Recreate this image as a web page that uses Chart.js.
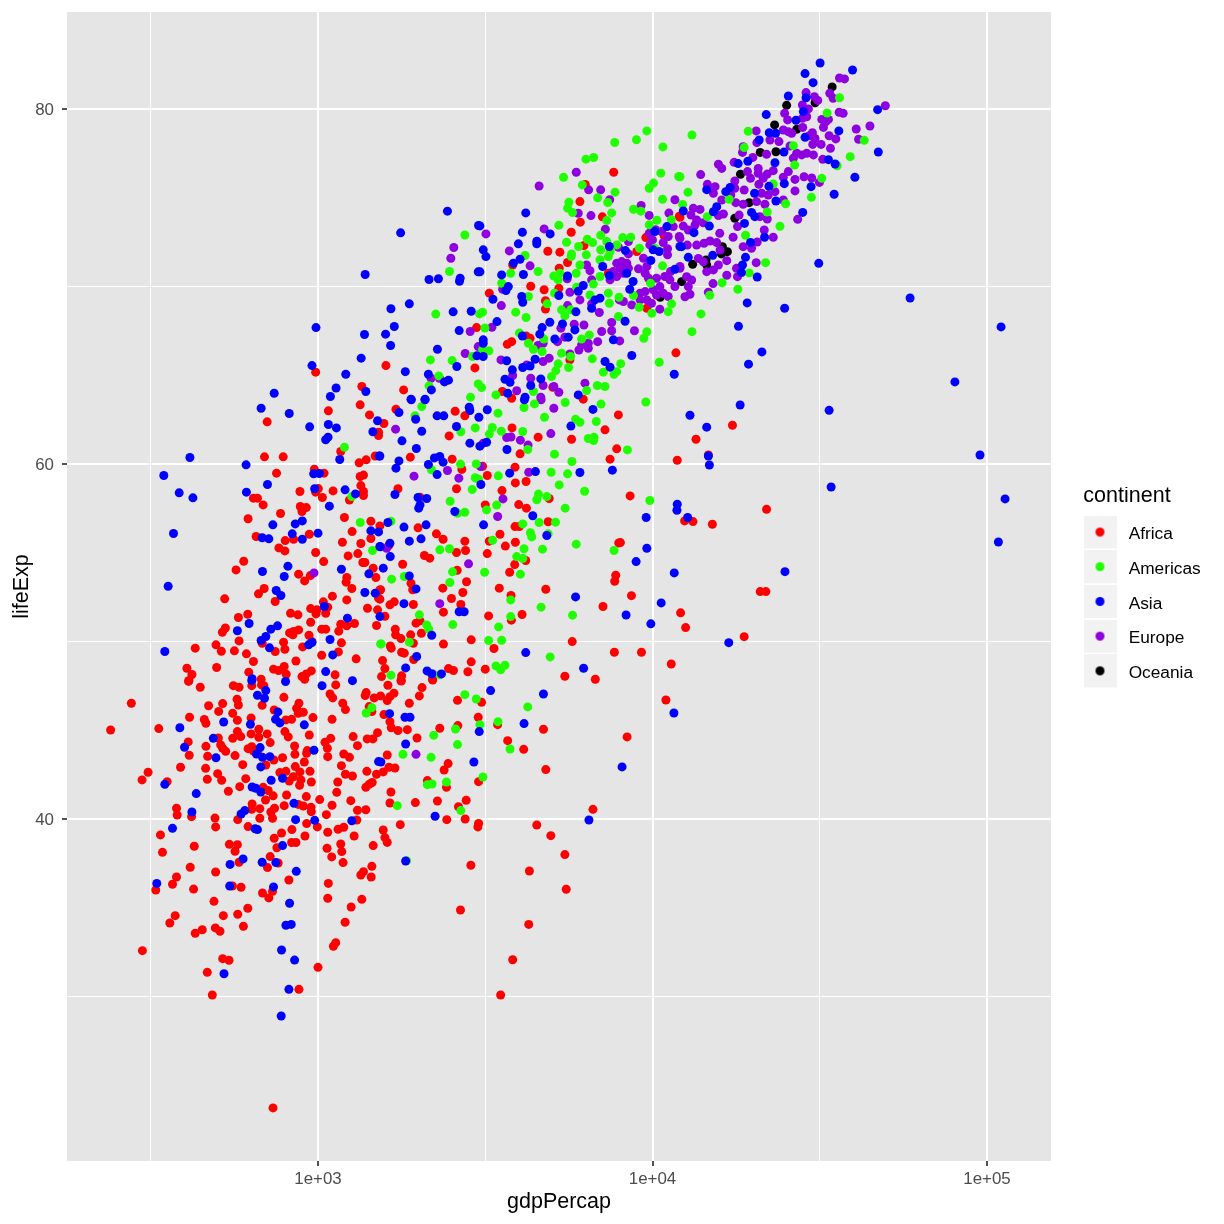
<!DOCTYPE html>
<html><head><meta charset="utf-8">
<style>html,body{margin:0;padding:0;background:#fff}canvas{display:block}</style>
<script src="https://cdn.jsdelivr.net/npm/chart.js@4"></script>
</head><body><canvas id="c" width="1224" height="1224"></canvas>
<script>
// Each pair: [log10(gdpPercap), lifeExp].
const africa=[[2.442,46.52],[2.380,45.01],[2.524,45.09],[2.616,45.73],[2.673,46.38],[2.648,47.42],[2.613,47.75],[2.715,46.50],[2.703,46.06],[2.660,45.60],[2.665,45.39],[2.745,45.95],[2.759,45.56],[2.758,46.74],[2.762,46.42],[2.747,47.51],[2.764,47.42],[2.800,45.69],[2.833,46.40],[2.802,47.51],[2.831,47.55],[2.838,47.51],[2.898,46.85],[2.869,46.14],[2.943,46.52],[2.936,46.23],[2.956,46.01],[2.941,45.95],[2.921,45.61],[2.904,45.58],[2.985,45.71],[2.612,44.34],[2.665,44.09],[2.702,44.56],[2.709,44.17],[2.715,43.98],[2.724,43.81],[2.615,43.59],[2.670,43.53],[2.752,43.57],[2.759,44.92],[2.745,44.54],[2.769,44.64],[2.800,44.79],[2.823,45.05],[2.823,44.6],[2.848,44.79],[2.857,44.3],[2.901,44.92],[2.911,44.62],[2.974,44.73],[2.791,43.96],[2.802,44.07],[2.807,43.83],[2.819,43.74],[2.930,44.11],[2.931,43.64],[2.968,43.85],[2.966,43.70],[2.894,43.45],[2.868,43.32],[2.775,43.06],[2.844,43.04],[2.959,43.21],[2.932,42.95],[2.886,42.61],[2.904,42.68],[2.946,42.65],[2.976,42.68],[2.926,42.38],[2.914,42.14],[2.949,42.2],[2.980,42.08],[2.945,41.9],[2.589,42.91],[2.664,42.85],[2.700,42.55],[2.669,42.23],[2.712,42.18],[2.784,42.27],[2.766,41.82],[2.732,41.56],[2.492,42.63],[2.474,42.2],[2.549,42.1],[2.836,41.78],[2.851,41.6],[2.843,41.07],[2.866,41.3],[2.906,41.35],[2.965,41.26],[3.005,41.09],[2.899,40.75],[2.941,40.82],[2.956,40.73],[2.979,40.66],[2.980,40.41],[2.803,40.84],[2.802,40.54],[2.826,40.58],[2.870,40.6],[2.859,40.39],[2.864,40.04],[2.826,40.04],[2.577,40.6],[2.579,40.22],[2.622,40.13],[2.692,40.05],[2.694,39.55],[2.760,39.96],[2.791,39.57],[2.966,39.74],[2.998,39.55],[2.922,39.4],[2.961,39.04],[2.891,39.21],[2.869,38.91],[2.529,39.1],[2.535,38.12],[2.630,38.46],[2.735,38.57],[2.759,38.55],[2.752,38.18],[2.877,38.38],[2.921,38.67],[2.934,38.67],[2.857,37.88],[2.764,37.56],[2.881,37.52],[2.849,37.26],[2.618,37.28],[2.694,37.01],[2.913,36.56],[2.577,36.73],[2.565,36.32],[2.515,36.0],[2.628,36.05],[2.744,36.22],[2.770,36.15],[2.834,35.83],[2.864,35.92],[2.853,35.55],[2.689,35.36],[2.790,34.97],[2.760,34.63],[2.717,34.55],[2.573,34.55],[2.557,34.14],[2.777,33.95],[2.693,33.86],[2.707,33.67],[2.654,33.76],[2.633,33.56],[2.475,32.58],[2.715,32.13],[2.734,32.04],[2.669,31.36],[3.000,31.64],[2.943,30.4],[2.684,30.08],[2.8655,23.72],
[3.053,47.55],[3.036,47.04],[3.044,46.82],[3.144,47.12],[3.141,46.95],[3.168,46.82],[3.187,46.93],[3.209,47.53],[3.227,47.08],[3.215,46.89],[3.207,46.67],[3.311,47.4],[3.303,46.93],[3.273,46.52],[3.249,47.77],[3.343,47.83],[3.074,46.52],[3.082,46.16],[3.042,45.61],[3.153,46.33],[3.161,46.05],[3.197,45.88],[3.215,45.48],[3.219,45.14],[3.239,44.98],[3.267,45.03],[3.296,44.56],[3.364,45.11],[3.418,45.26],[3.417,46.68],[3.489,46.57],[3.479,45.73],[3.537,45.31],[3.674,45.05],[3.567,44.41],[3.615,43.92],[3.681,42.78],[3.038,44.54],[3.021,44.32],[3.028,43.98],[3.029,43.51],[3.105,44.64],[3.118,44.13],[3.147,44.51],[3.164,44.51],[3.178,44.86],[3.077,43.66],[3.094,43.47],[3.070,43.0],[3.082,42.52],[3.103,42.42],[3.059,42.08],[3.056,41.5],[3.146,42.68],[3.175,42.52],[3.195,42.65],[3.212,42.91],[3.230,42.87],[3.207,43.6],[3.143,41.78],[3.153,41.95],[3.162,42.05],[3.218,41.52],[3.098,41.03],[3.042,40.77],[3.025,40.24],[3.215,40.9],[3.291,40.92],[3.357,41.01],[3.443,41.05],[3.420,40.69],[3.385,39.96],[3.440,40.0],[3.480,39.75],[3.478,39.55],[3.822,40.54],[3.654,39.66],[3.696,39.06],[3.738,37.99],[3.632,37.07],[3.742,36.04],[3.630,34.06],[3.582,32.07],[3.546,30.08],[3.426,34.87],[3.457,37.39],[3.118,40.49],[3.143,40.52],[3.116,39.94],[3.029,39.25],[3.060,39.42],[3.077,39.53],[3.108,39.04],[3.246,39.68],[3.195,39.38],[3.200,38.95],[3.207,38.68],[3.165,38.5],[3.068,38.59],[3.027,38.35],[3.071,38.16],[3.041,37.86],[3.075,37.54],[3.161,37.33],[3.136,37.03],[3.128,36.84],[3.159,36.73],[3.031,36.37],[3.029,35.53],[3.131,35.47],[3.099,35.04],[3.081,34.18],[3.053,33.03],[3.046,32.83],[3.389,43.12],[3.377,42.76],[3.327,42.16],[3.384,41.78],[3.480,42.1],
[2.848,62.37],[3.126,63.33],[3.031,62.99],[3.154,62.76],[3.181,61.79],[3.181,61.6],[3.068,60.7],[2.840,60.4],[2.896,60.4],[3.123,60.06],[3.144,60.23],[3.171,60.45],[2.876,59.48],[2.989,59.7],[3.018,59.48],[3.126,59.29],[3.136,59.37],[3.128,58.78],[2.946,58.45],[3.001,58.61],[2.993,58.41],[3.045,58.48],[3.013,58.11],[2.807,58.07],[2.819,58.07],[2.836,57.69],[3.136,58.45],[3.136,58.22],[3.094,57.97],[2.947,57.6],[2.965,57.54],[2.952,57.32],[2.888,57.21],[2.791,56.91],[3.079,56.98],[3.158,56.77],[3.185,56.51],[3.102,56.19],[2.815,55.91],[2.974,56.04],[2.902,55.68],[2.927,55.76],[3.073,55.59],[3.128,55.52],[3.158,55.8],[2.883,55.27],[2.901,55.1],[2.993,55.01],[3.017,54.5],[3.090,54.82],[3.119,54.95],[3.134,54.45],[3.140,54.45],[2.778,54.52],[2.755,54.03],[2.942,53.79],[2.977,53.71],[2.960,53.41],[3.165,54.13],[3.173,53.6],[3.086,53.6],[3.084,53.34],[3.101,52.98],[3.185,52.9],[2.839,52.98],[2.822,52.68],[2.721,52.4],[2.872,52.25],[3.043,52.55],[3.086,52.34],[3.181,52.44],[3.016,52.23],[3.148,51.87],[3.178,51.78],[2.978,51.85],[2.997,51.78],[2.994,51.55],[3.023,51.59],[3.029,51.93],[2.918,51.59],[2.940,51.5],[2.762,51.35],[2.790,51.53],[2.723,50.76],[2.714,50.52],[2.978,51.08],[3.068,50.97],[3.086,50.88],[3.109,51.01],[3.062,50.58],[3.175,50.9],[3.011,50.69],[3.023,50.69],[2.942,50.65],[2.927,50.56],[2.915,50.48],[2.925,50.37],[2.973,50.35],[2.764,50.03],[2.897,49.96],[2.695,49.81],[2.633,49.62],[2.711,49.45],[2.750,49.47],[2.833,49.9],[2.901,49.56],[2.872,49.43],[2.954,49.69],[2.982,49.99],[3.070,49.92],[3.061,49.41],[3.011,49.22],[2.786,49.3],[2.934,48.9],[3.114,49.02],[2.807,48.87],[2.697,48.53],[2.608,48.49],[2.623,48.14],[2.614,47.8],[2.793,48.27],[2.867,48.44],[2.882,48.36],[2.899,48.59],[2.905,48.15],[2.980,48.34],[2.965,48.17],[2.952,48.02],[2.960,47.87],[3.051,48.12],[2.830,47.87],
[3.233,63.08],[3.197,62.28],[3.410,62.97],[3.439,62.71],[3.392,61.58],[3.580,62.03],[3.658,61.51],[3.758,61.39],[3.858,61.92],[3.898,62.76],[3.893,60.85],[3.873,60.27],[3.604,60.57],[3.276,60.38],[3.401,60.27],[3.430,59.69],[3.492,59.87],[3.506,59.35],[3.589,59.82],[3.590,58.93],[3.622,59.01],[3.414,58.6],[3.550,58.5],[3.239,58.6],[3.305,58.13],[3.500,57.69],[3.600,57.71],[3.623,57.51],[3.691,58.05],[3.688,56.74],[3.589,56.47],[3.602,56.47],[3.299,56.4],[3.354,56.06],[3.374,55.76],[3.544,56.04],[3.439,55.65],[3.441,55.12],[3.414,55.01],[3.512,55.65],[3.560,55.37],[3.590,55.59],[3.506,54.95],[3.318,54.84],[3.334,54.69],[3.212,55.42],[3.253,54.35],[3.588,54.33],[3.621,54.56],[3.573,53.9],[3.416,54.01],[3.444,53.36],[3.278,53.28],[3.283,52.91],[3.373,53.0],[3.433,52.76],[3.542,53.0],[3.577,52.59],[3.681,52.94],[3.899,55.55],[3.890,53.73],[3.887,53.39],[3.399,52.42],[3.427,52.08],[3.215,52.06],[3.228,52.23],[3.285,52.08],[3.187,52.91],[3.185,52.38],[3.375,51.65],[3.510,51.44],[3.578,51.2],[3.610,51.52],[3.852,51.97],[3.200,51.42],[3.305,51.16],[3.293,51.03],[3.231,50.69],[3.232,50.37],[3.248,50.16],[3.277,50.37],[3.309,50.46],[3.285,49.9],[3.216,49.75],[3.219,49.62],[3.250,49.39],[3.258,49.34],[3.286,48.98],[3.375,49.85],[3.458,50.09],[3.526,49.6],[3.760,49.99],[3.886,49.39],[3.458,48.85],[3.390,48.47],[3.405,48.36],[3.448,48.29],[3.500,48.44],[3.193,48.92],[3.200,48.47],[3.190,48.02],[3.250,48.06],[3.248,47.8],[3.342,47.87],[3.738,48.04],[3.829,47.87],
[3.884,76.43],[3.799,75.74],[3.783,74.78],[3.850,73.92],[3.784,73.62],[4.080,73.96],[3.757,73.05],[3.980,72.75],[4.035,72.85],[3.795,72.3],[3.687,71.98],[3.723,71.93],[3.746,71.35],[3.582,71.21],[3.721,71.03],[3.953,71.97],[3.636,70.01],[3.676,69.81],[3.720,69.9],[3.512,69.62],[3.680,69.19],[3.680,68.73],[3.983,68.77],[3.868,70.74],[3.622,67.21],[3.634,67.08],[3.566,66.74],[3.579,66.89],[3.753,65.86],[4.070,66.26],[3.551,64.08],[3.579,63.7],[3.702,64.32],[3.793,63.65],[2.993,65.17],[3.203,65.54],[3.474,67.68],[3.469,65.41],[3.131,64.36],[3.256,64.17],[4.082,73.9],
[4.239,62.18],[4.130,61.39],[4.167,60.5],[4.074,60.21],[3.933,58.2],[4.341,57.44],[4.096,56.79],[4.121,56.75],[4.179,56.6],[3.904,55.57],[3.937,52.58],[4.084,51.61],[4.099,50.78],[4.274,50.27],[4.322,52.81],[4.339,52.81],[3.967,49.39],[4.056,48.73],[4.040,46.7],[3.924,44.62]];
const americas=[[3.439,47.0],[3.473,46.76],[3.627,46.31],[3.161,46.27],[3.144,45.97],[3.484,45.31],[3.538,45.48],[3.411,45.07],[3.346,44.71],[3.417,44.19],[3.574,43.94],[3.254,43.64],[3.338,43.47],[3.493,42.36],[3.384,42.08],[3.327,41.93],[3.341,41.97],[3.237,40.75],[3.427,40.47],[3.265,37.65],
[3.079,60.94],[3.101,58.16],[3.126,56.7],[3.163,55.12],[3.187,49.86],
[3.310,63.23],[3.290,62.71],[3.538,62.86],[3.616,63.18],[3.647,63.38],[3.677,62.63],[3.739,63.46],[3.846,63.37],[3.770,62.52],[3.783,62.35],[3.832,62.39],[3.470,62.03],[3.427,61.81],[3.521,62.05],[3.512,61.68],[3.548,61.84],[3.612,61.83],[3.808,61.43],[3.825,61.51],[3.824,61.32],[3.627,60.81],[3.707,60.55],[3.759,60.14],[3.426,59.99],[3.473,60.0],[3.339,59.67],[3.539,59.33],[3.697,59.53],[3.746,59.44],[3.721,58.82],[3.797,58.46],[3.470,59.22],[3.480,59.14],[3.461,58.56],[3.659,58.3],[3.654,57.98],[3.684,58.16],[3.395,57.9],[3.534,57.68],[3.504,57.41],[3.739,57.51],[3.417,57.22],[3.439,57.28],[3.218,56.77],[3.612,56.62],[3.661,56.7],[3.710,56.72],[3.635,56.12],[3.639,55.89],[3.688,56.06],[3.522,55.7],[3.772,55.48],[3.885,55.12],[3.364,55.16],[3.393,55.22],[3.616,55.22],[3.671,55.2],[3.594,54.78],[3.612,54.67],[3.498,53.9],[3.402,53.92],[3.605,53.79],[3.220,53.51],[3.258,53.66],[3.394,53.32],[3.576,52.34],[3.667,51.93],[3.761,51.48],[3.576,51.4],[3.303,51.5],[3.325,50.93],[3.331,50.69],[3.403,50.95],[3.540,50.82],[3.273,49.96],[3.189,49.86],[3.510,50.05],[3.549,50.07],[3.694,49.13],[3.532,48.62],[3.559,48.66],[3.546,48.4],[3.218,48.1],[3.364,48.12],
[3.439,72.9],[3.393,70.84],[3.352,68.44],[3.483,68.45],[3.336,65.86],[3.401,65.82],[3.462,66.05],[3.361,64.96],[3.332,64.4],[3.479,64.51],[3.456,63.76],
[3.887,78.11],[3.952,78.26],[3.983,78.76],[4.031,77.86],[3.801,77.17],[3.824,77.26],[3.734,76.15],[3.790,75.72],[4.025,76.38],[4.078,76.19],[4.003,75.82],[3.990,75.53],[3.888,75.31],[3.836,74.99],[3.866,74.73],[4.030,74.91],[3.750,74.74],[3.746,74.41],[3.761,74.16],[3.878,74.14],[3.943,74.35],[3.965,74.24],[3.863,73.71],[4.013,73.73],[4.056,73.75],[3.720,73.45],[3.990,73.47],[3.845,72.89],[3.805,72.66],[3.821,72.47],[3.743,72.49],[3.911,72.75],[3.935,72.77],[3.779,72.25],[3.863,72.53],[3.893,72.34],[3.961,72.15],[4.007,72.15],[3.845,72.06],[3.873,71.97],[3.758,71.83],[3.757,71.68],[3.802,71.78],[3.843,71.5],[3.868,71.68],[3.619,71.74],[3.783,71.21],[3.658,70.84],[3.576,70.74],[4.030,71.16],[3.705,70.59],[3.723,70.74],[3.718,70.37],[3.772,70.74],[3.843,70.56],[3.549,70.18],[3.994,70.18],[3.823,70.13],[3.773,69.96],[3.707,69.62],[3.813,69.52],[3.868,69.62],[3.629,69.43],[3.943,69.49],[3.900,69.39],[3.871,69.05],[3.685,69.02],[3.960,68.83],[3.728,68.68],[3.738,68.34],[3.755,68.68],[4.057,69.02],[4.047,68.58],[3.998,68.49],[3.591,68.55],[3.622,68.25],[3.492,68.55],[3.499,67.66],[3.898,68.3],[3.602,67.38],[3.983,67.44],[3.974,67.08],[3.675,67.04],[3.811,67.27],[3.788,67.04],[3.629,66.8],[3.644,66.46],[3.670,66.33],[3.511,66.37],[3.492,66.43],[3.728,66.24],[3.755,66.05],[3.820,65.92],[4.020,65.73],[3.905,65.65],[3.718,65.64],[3.749,65.43],[3.711,65.26],[3.853,65.17],[3.893,65.2],[3.885,65.05],[3.698,64.92],[3.835,64.42],[3.858,64.36],[3.803,64.13],[3.644,64.08],[3.489,64.3],[3.532,63.89],
[4.559,80.63],[4.522,79.77],[4.286,78.74],[4.421,77.93],[4.274,77.82],[4.591,77.31],[4.633,78.23],[4.552,76.8],[4.425,76.84],[4.506,76.09],[4.475,75.02],[4.361,75.77],[4.106,75.3],[4.229,74.91],[4.090,74.62],[4.398,74.66],[4.343,74.19],[4.164,73.93],[4.381,73.39],[4.278,72.88],[4.118,78.53],[4.082,76.18],[4.338,71.34],[4.289,70.76],[4.208,70.21],[4.255,69.84],[4.171,69.5],[4.145,68.45],[4.118,67.45],
[3.980,63.49],[3.925,60.79],[3.992,57.94]];
const asia=[[2.802,47.79],[2.844,47.23],[2.819,46.97],[2.840,46.8],[2.903,47.74],[3.012,47.51],[2.880,46.03],[2.873,45.61],[2.886,45.41],[2.959,45.3],[2.718,45.46],[2.798,45.33],[2.587,45.14],[2.687,44.54],[2.601,44.04],[2.827,44.02],[2.816,43.66],[2.834,43.47],[2.856,43.51],[2.695,43.45],[2.829,42.93],[2.988,43.87],[2.894,42.29],[2.860,42.18],[2.542,41.95],[2.636,41.43],[2.803,41.8],[2.814,41.73],[2.829,41.52],[2.928,40.88],[2.623,40.39],[2.781,40.47],[2.770,40.28],[2.933,39.96],[2.990,39.92],[2.565,39.47],[2.812,39.45],[2.819,39.4],[2.894,38.5],[2.776,37.75],[2.737,37.44],[2.833,37.56],[2.874,37.54],[2.935,37.05],[2.518,36.37],[2.736,36.22],[2.867,36.17],[2.915,35.25],[2.904,34.01],[2.920,34.06],[2.891,32.62],[2.930,32.05],[2.719,31.28],[2.913,30.4],[2.890,28.9],
[3.103,47.79],[3.516,47.23],[3.674,47.04],[3.214,45.93],[3.260,45.73],[3.275,45.73],[3.616,45.37],[3.482,44.92],[3.262,44.22],[3.181,43.23],[3.188,43.21],[3.466,43.21],[3.350,40.15],[3.101,39.9],[3.262,37.63],[3.810,39.94],
[2.830,63.14],[2.914,62.84],[2.975,62.09],[3.031,62.22],[3.055,62.03],[3.178,62.43],[3.164,61.81],[3.030,61.51],[3.023,61.36],[2.617,60.36],[3.065,60.25],[3.183,60.44],[2.785,59.95],[2.539,59.35],[2.849,58.84],[2.987,59.44],[3.004,59.46],[2.585,58.37],[2.626,58.09],[2.786,58.41],[2.990,58.6],[3.081,58.54],[3.112,58.31],[3.034,57.62],[2.568,56.08],[2.865,56.57],[2.932,56.62],[2.953,56.79],[2.923,56.06],[2.833,55.84],[2.853,55.78],[2.953,55.76],[3.000,56.1],[3.158,56.23],[3.181,56.17],[3.186,55.33],[2.910,54.24],[2.834,53.94],[2.899,53.66],[3.070,54.07],[3.152,53.81],[2.552,53.11],[2.875,52.87],[2.889,52.59],[3.140,52.76],[3.171,52.72],[3.019,51.97],[3.088,51.31],[2.794,51.01],[2.759,50.6],[2.879,50.88],[2.859,50.69],[2.844,50.28],[2.830,50.05],[3.036,50.11],[2.855,49.64],[2.542,49.43],[2.982,49.94],[2.972,49.81],[3.044,49.24],[3.023,48.3],[2.803,47.9],
[3.279,63.61],[3.320,63.61],[3.242,62.9],[3.292,62.52],[3.356,62.71],[3.376,62.71],[3.452,63.2],[3.454,63.01],[3.481,62.63],[3.506,63.05],[3.414,62.11],[3.310,61.84],[3.251,61.3],[3.294,60.87],[3.454,61.17],[3.484,61.0],[3.504,61.22],[3.565,60.81],[3.756,62.13],[3.822,63.07],[3.617,63.61],[3.348,60.34],[3.364,60.42],[3.374,60.1],[3.330,59.97],[3.356,59.4],[3.242,60.17],[3.233,59.76],[3.487,58.84],[3.573,59.48],[3.650,59.57],[3.783,59.52],[3.880,59.65],[3.230,58.28],[3.299,58.11],[3.325,58.05],[3.305,57.69],[3.301,57.51],[3.409,57.32],[3.642,57.08],[3.209,56.7],[3.257,56.44],[3.323,56.57],[3.495,56.57],[3.684,55.97],[3.308,55.78],[3.273,55.65],[3.215,55.53],[3.185,55.35],[3.216,54.78],[3.195,54.13],[3.273,53.69],[3.293,52.96],[3.257,52.13],[3.770,52.51],[3.422,51.67],[3.437,51.67],[3.340,50.35],[3.295,49.15],[3.621,49.37],[3.262,48.51],[3.326,48.34],[3.340,48.17],[3.369,48.17],[3.794,48.49],[3.185,60.45],[3.185,51.4],
[3.387,74.24],[3.480,73.43],[3.247,73.02],[3.141,70.67],[3.332,70.39],[3.360,70.43],[3.425,70.46],[3.423,70.29],[3.479,70.82],[3.273,69.02],[3.218,68.74],[3.404,68.57],[3.458,68.6],[2.994,67.68],[3.228,67.74],[3.422,67.51],[3.139,67.29],[3.202,67.31],[3.217,66.67],[3.357,66.46],[3.129,65.96],[3.475,66.09],[2.982,65.54],[3.415,65.49],[3.261,65.2],[3.083,65.05],[3.330,65.05],[3.378,64.62],[3.390,64.72],[3.054,64.28],[3.143,64.08],[3.339,64.17],[2.869,63.98],[3.037,63.8],[3.278,63.65],[3.320,63.65],
[3.621,74.14],[3.484,73.41],[3.611,73.05],[3.694,72.96],[3.654,72.55],[3.654,72.4],[3.599,72.4],[3.494,72.06],[3.502,71.68],[3.604,71.53],[3.584,71.31],[3.484,70.82],[3.549,70.65],[3.614,70.67],[3.746,70.59],[3.569,69.99],[3.562,69.77],[3.523,69.28],[3.609,69.43],[3.612,69.11],[3.793,70.05],[3.778,69.73],[3.720,69.49],[3.851,71.12],[3.871,70.61],[3.871,72.25],[3.923,70.74],[3.942,70.28],[3.932,69.84],[3.919,72.02],[3.995,71.46],[4.002,72.06],[4.020,71.97],[4.007,73.09],[4.043,73.37],[4.082,72.25],[4.067,70.97],[3.843,69.34],[3.828,69.24],[3.818,68.77],[3.771,68.57],[3.535,68.02],[3.693,67.98],[3.670,67.68],[3.663,67.31],[3.731,67.89],[3.768,67.55],[3.708,67.04],[3.748,67.14],[3.918,68.04],[3.883,66.99],[3.611,67.21],[3.494,66.99],[3.494,66.8],[3.494,66.05],[3.564,65.81],[3.649,65.9],[3.938,66.11],[3.581,65.3],[3.612,65.43],[3.634,65.52],[3.858,65.77],[3.873,65.45],[3.559,64.77],[3.574,64.6],[3.666,64.79],[3.636,64.42],[3.567,63.98],[3.619,63.76],[3.778,63.89],[4.065,65.05],
[4.501,82.59],[4.598,82.19],[4.456,81.99],[4.480,81.48],[4.406,80.73],[4.459,80.63],[4.340,79.68],[4.673,79.96],[4.429,79.36],[4.451,79.85],[4.557,78.76],[4.349,78.66],[4.368,78.63],[4.319,78.25],[4.456,78.4],[4.675,77.57],[4.393,77.57],[4.285,77.05],[4.256,76.92],[4.366,76.97],[4.526,77.14],[4.546,76.9],[4.605,76.15],[4.394,75.79],[4.474,75.62],[4.348,75.64],[4.162,75.45],[4.232,75.58],[4.219,75.34],[4.305,75.25],[4.543,75.19],[4.369,74.81],[4.092,74.25],[4.192,74.49],[4.182,74.21],[4.296,74.17],[4.306,73.93],[4.449,74.17],[4.170,73.4],[4.275,73.55],[4.124,73.03],[4.087,72.24],[4.335,72.77],[4.293,72.48],[4.107,71.64],[4.180,71.75],[4.278,71.64],[4.269,71.21],[4.497,71.3],[4.266,70.78],[4.313,70.53],[4.283,69.07],[4.395,68.77],[4.257,67.75],[4.770,69.35],
[4.327,66.31],[4.287,65.62],[4.262,63.32],[4.528,63.02],[4.112,62.74],[4.162,62.07],[4.167,60.45],[4.170,59.94],[4.534,58.7],[4.074,57.73],[4.073,57.39],[3.981,56.98],[4.105,56.98],[3.983,55.25],[3.951,54.5],[4.065,53.86],[4.396,53.93],[4.026,52.17],[3.921,51.49],[3.995,50.99],[4.228,49.93],[4.064,45.97],[3.909,42.93],
[4.904,64.62],[4.979,60.5],[5.042,67.72],[5.054,58.03],[5.034,55.6]];
const europe=[[3.293,43.64],[2.988,53.86],
[3.232,61.96],[3.705,63.14],[3.667,63.61],[3.696,61.71],[3.564,61.49],[3.577,61.52],[3.605,61.34],[3.628,61.06],[3.494,61.17],[3.486,59.85],[3.387,59.63],[3.630,59.53],[3.287,59.31],[3.421,59.2],[3.553,58.03],[3.537,57.04],[3.205,55.25],[3.450,54.37],[3.364,52.13],[3.343,48.17],
[3.406,72.19],[3.397,71.59],[3.455,67.46],[3.479,66.61],[3.440,66.22],[3.338,64.83],[3.363,64.83],
[3.661,75.66],[3.772,76.43],[3.809,75.44],[3.845,75.44],[3.872,74.88],[3.778,74.12],[3.816,73.99],[3.966,74.56],[3.990,74.0],[4.067,74.88],[4.049,74.13],[3.859,73.22],[3.676,73.24],[3.502,72.96],[3.990,72.99],[4.009,73.19],[4.027,73.09],[4.047,72.81],[4.062,73.37],[4.080,72.81],[4.000,72.62],[3.992,72.34],[4.032,72.47],[4.045,72.12],[4.045,71.78],[3.928,72.53],[3.898,72.21],[3.572,72.0],[3.928,71.83],[3.973,71.59],[3.634,71.16],[3.803,71.21],[3.813,70.89],[3.893,71.31],[3.908,71.4],[3.923,71.31],[3.903,71.03],[3.883,70.84],[3.913,70.74],[3.928,71.03],[3.893,70.56],[3.878,70.65],[3.958,70.99],[3.983,71.12],[3.978,70.74],[3.988,70.46],[4.012,70.46],[4.037,70.56],[4.054,70.84],[4.082,71.12],[4.052,70.37],[4.022,69.99],[4.067,69.99],[3.963,69.62],[3.978,69.71],[4.002,69.81],[3.983,69.24],[4.012,69.52],[3.997,69.05],[4.022,68.72],[3.963,69.24],[3.938,68.96],[3.913,69.15],[3.901,69.24],[4.047,69.43],[4.032,69.62],[3.552,69.84],[3.548,68.92],[3.753,69.67],[3.745,70.43],[3.818,70.37],[3.746,68.92],[3.841,68.53],[3.818,69.02],[3.783,69.24],[3.873,70.37],[3.520,67.7],[3.726,67.65],[3.766,67.87],[3.795,67.83],[3.878,67.97],[3.878,67.5],[3.848,67.46],[3.946,67.5],[3.902,66.93],[3.836,66.89],[3.738,67.14],[3.716,66.89],[3.788,66.71],[3.808,66.8],[3.780,66.42],[3.808,66.52],[3.658,66.67],[3.673,66.8],[3.547,65.86],[3.673,65.77],[3.691,65.96],[3.624,65.58],[3.753,66.2],[3.582,64.98],[3.636,64.83],[3.673,64.42],[3.705,64.36],[3.594,64.12],[3.720,64.04],[3.798,64.55],[3.666,63.76],
[4.559,81.74],[4.574,81.69],[4.459,80.92],[4.530,80.88],[4.540,80.6],[4.484,80.69],[4.494,80.48],[4.448,80.22],[4.466,80.0],[4.696,80.18],[4.395,79.75],[4.404,79.38],[4.461,79.56],[4.448,79.47],[4.558,79.81],[4.570,79.75],[4.506,79.41],[4.526,79.41],[4.518,79.28],[4.511,78.96],[4.310,78.76],[4.391,78.81],[4.406,78.72],[4.416,78.63],[4.449,78.96],[4.478,78.66],[4.469,78.49],[4.486,78.34],[4.479,78.0],[4.504,78.0],[4.528,78.49],[4.548,78.31],[4.609,78.87],[4.650,79.04],[4.616,78.29],[4.351,78.25],[4.378,78.16],[4.312,78.1],[4.411,77.91],[4.269,77.55],[4.271,77.87],[4.532,77.78],[4.341,77.44],[4.300,77.27],[4.431,77.5],[4.446,77.41],[4.461,77.5],[4.481,77.41],[4.421,77.22],[4.509,77.16],[4.244,76.99],[4.197,76.88],[4.207,76.65],[4.144,76.3],[4.316,76.65],[4.284,76.47],[4.316,76.37],[4.293,76.09],[4.361,76.52],[4.343,76.33],[4.331,76.09],[4.318,75.75],[4.406,76.47],[4.391,76.15],[4.426,76.03],[4.453,76.18],[4.476,76.11],[4.499,75.86],[4.246,75.94],[4.164,75.75],[4.187,75.62],[4.182,75.25],[4.246,75.53],[4.234,75.15],[4.274,75.43],[4.207,74.87],[4.426,75.38],[4.366,75.34],[4.346,75.15],[4.326,75.25],[4.311,74.78],[4.336,74.63],[4.249,74.72],[4.271,74.63],[4.391,74.87],[4.122,74.4],[4.142,74.34],[4.115,74.02],[4.212,74.08],[4.197,73.99],[4.259,74.02],[4.321,73.93],[4.343,73.8],[4.434,73.78],[4.132,73.74],[4.152,73.59],[4.127,73.46],[4.254,73.37],[4.092,73.4],[4.107,73.18],[4.201,72.99],[4.241,72.77],[4.334,73.18],[4.361,72.77],[4.313,72.5],[4.296,72.15],[4.271,72.24],[4.082,72.71],[4.104,72.33],[4.132,72.33],[4.154,72.43],[4.172,72.56],[4.192,72.47],[4.202,72.05],[4.222,71.45],[4.197,71.21],[4.182,70.93],[4.162,70.83],[4.152,71.39],[4.137,71.58],[4.310,71.34],[4.251,71.02],[4.254,70.55],[4.222,70.63],[4.082,71.02],[4.102,70.55],[4.117,70.36],[4.107,69.99],[4.181,70.16],[4.167,69.67],[4.097,69.42],[4.112,69.56]];
const oceania=[[4.023,69.39],[4.537,81.24],[4.401,80.2],[4.486,80.35],[4.365,79.1],[4.431,78.85],[4.322,77.55],[4.369,77.59],[4.263,76.32],[4.289,74.72],[4.246,73.84],[4.209,72.24],[4.224,71.96],[4.206,71.83],[4.160,71.49],[4.162,71.21],[4.120,71.25],[4.087,70.27]];

const continents=['Africa','Americas','Asia','Europe','Oceania'];
const colours=['#FF0000','#1FFF00','#0000FF','#8F00E0','#000000'];
const series=[africa,americas,asia,europe,oceania];
const drawOrder=[5,2,1,3,6];
const xTicks=[2.5,3,3.5,4,4.5,5];
const xMajor=[3,4,5];
const yTicks=[30,40,50,60,70,80];
const yMajor=[40,60,80];
const fontName='"Liberation Sans", Arial, sans-serif';

function keyImage(col){
  const k=document.createElement('canvas');k.width=33;k.height=38;
  const g=k.getContext('2d');
  g.fillStyle='#F2F2F2';g.fillRect(0,0,33,33);
  g.fillStyle=col;g.beginPath();g.arc(16.5,16.5,4.5,0,Math.PI*2);g.fill();
  return k;
}
const isMajor=(v,list)=>list.some(m=>Math.abs(m-v)<1e-6);
const xIsMajor=v=>isMajor(Math.log10(v),xMajor);
const gridWidth=f=>c=>f(c.tick.value)?2:1;
const tickCol=f=>c=>f(c.tick.value)?'#333333':'rgba(0,0,0,0)';

const panel={id:'panel',beforeDraw(ch){
  const a=ch.chartArea,g=ch.ctx;g.save();g.fillStyle='#E5E5E5';
  g.fillRect(a.left,a.top,a.right-a.left,a.bottom-a.top);g.restore();
},afterLayout(ch){
  const l=ch.legend;
  l.left=1062.6;l.top=487;l.width=128.8;l.right=1224;l.bottom=1224;
}};

new Chart(document.getElementById('c'),{
  type:'scatter',
  plugins:[panel],
  data:{datasets:continents.map((n,i)=>({
    label:n,
    data:series[i].map(p=>({x:Math.pow(10,p[0]),y:p[1]})),
    backgroundColor:colours[i],borderWidth:0,pointRadius:4.5,pointHoverRadius:4.5,order:drawOrder[i]
  }))},
  options:{
    responsive:false,animation:false,devicePixelRatio:1,
    layout:{padding:{left:0,top:12,right:173,bottom:0}},
    plugins:{
      tooltip:{enabled:false},
      legend:{
        position:'chartArea',align:'start',
        title:{display:true,text:'continent',color:'#000',position:'center',
          font:{family:fontName,size:21.5,lineHeight:1},padding:{top:-1.5,bottom:1.5}},
        labels:{
          color:'#000',font:{family:fontName,size:17.3},
          usePointStyle:true,pointStyleWidth:40,padding:17.4,
          sort:(a,b)=>a.datasetIndex-b.datasetIndex,
          generateLabels(ch){
            return Chart.defaults.plugins.legend.labels.generateLabels(ch).map(it=>
              Object.assign(it,{pointStyle:keyImage(colours[it.datasetIndex])}));
          }
        }
      }
    },
    scales:{
      x:{
        type:'logarithmic',min:Math.pow(10,2.2496),max:Math.pow(10,5.1913),
        afterBuildTicks:s=>{s.ticks=xTicks.map(v=>({value:Math.pow(10,v)}));},
        afterFit:s=>{s.height=63;s.paddingLeft=0;s.paddingRight=0;},
        border:{display:false},
        grid:{color:'#fff',lineWidth:gridWidth(xIsMajor),tickLength:5,tickColor:tickCol(xIsMajor),tickWidth:1.7},
        ticks:{autoSkip:false,maxRotation:0,minRotation:0,color:'#4D4D4D',padding:3,
          font:{family:fontName,size:16.9},
          callback:v=>xIsMajor(v)?'1e+0'+Math.round(Math.log10(v)):''},
        title:{display:true,text:'gdpPercap',color:'#000',font:{family:fontName,size:21.5},padding:{top:0,bottom:9}}
      },
      y:{
        type:'linear',min:20.73,max:85.46,
        afterBuildTicks:s=>{s.ticks=yTicks.map(v=>({value:v}));},
        afterFit:s=>{s.width=67;s.paddingTop=0;s.paddingBottom=0;},
        border:{display:false},
        grid:{color:'#fff',lineWidth:gridWidth(v=>isMajor(v,yMajor)),tickLength:5,tickColor:tickCol(v=>isMajor(v,yMajor)),tickWidth:1.7},
        ticks:{autoSkip:false,color:'#4D4D4D',padding:8,labelOffset:1.5,font:{family:fontName,size:16.9},
          callback:v=>isMajor(v,yMajor)?String(v):''},
        title:{display:true,text:'lifeExp',color:'#000',font:{family:fontName,size:21.5},padding:{top:9,bottom:0}}
      }
    }
  }
});
</script></body></html>
